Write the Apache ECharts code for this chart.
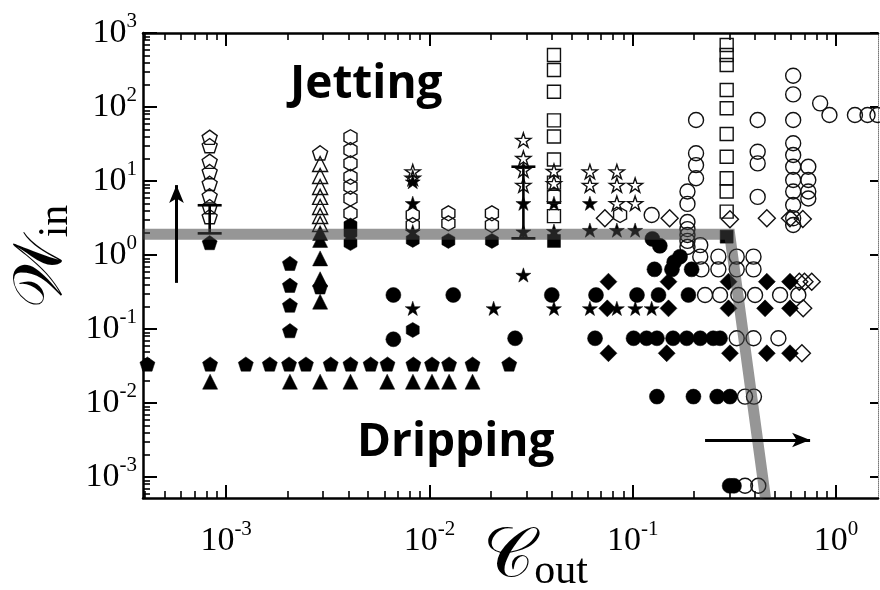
<!DOCTYPE html>
<html>
<head>
<meta charset="utf-8">
<script src="https://cdn.jsdelivr.net/npm/echarts@6/dist/echarts.min.js"></script>
<style>
  html, body { margin: 0; padding: 0; background: #fff; }
  #chart { width: 880px; height: 590px; }
</style>
</head>
<body>
<div id="chart"></div>
<script>
// Axis ranges (log-log)
const X_MIN = 3.9e-4, X_MAX = 1.61;
const Y_MIN = 5.2e-4, Y_MAX = 1000;

// Decade tick values shown with labels
const xMajorTicks = [1e-3, 1e-2, 1e-1, 1];
const yMajorTicks = [1e-3, 1e-2, 1e-1, 1, 10, 100, 1000];

// Measured points: [C_out, W_in]
const openPentagon = [
  [8.3e-4, 39], [8.3e-4, 30], [8.3e-4, 18.5], [8.3e-4, 13.4], [8.3e-4, 9.3],
  [8.3e-4, 6.3], [8.3e-4, 4.5], [8.3e-4, 3.3], [2.9e-3, 24]
];
const filledPentagon = [
  [8.3e-4, 1.47],
  [2.06e-3, 0.77], [2.06e-3, 0.39], [2.06e-3, 0.21], [2.06e-3, 0.095], [2.9e-3, 0.37],
  [4.1e-4, 0.0336], [8.34e-4, 0.0336], [1.25e-3, 0.0336], [1.64e-3, 0.0336], [2.04e-3, 0.0336],
  [2.47e-3, 0.0336], [3.27e-3, 0.0336], [4.09e-3, 0.0336], [5.14e-3, 0.0336], [6.22e-3, 0.0336],
  [8.34e-3, 0.0336], [1.03e-2, 0.0336], [1.25e-2, 0.0336], [1.63e-2, 0.0336], [2.47e-2, 0.0336]
];
const openTriangle = [
  [2.9e-3, 17.0], [2.9e-3, 11.7], [2.9e-3, 8.3], [2.9e-3, 6.1], [2.9e-3, 4.45],
  [2.9e-3, 3.37], [2.9e-3, 2.62]
];
const filledTriangle = [
  [2.9e-3, 1.98], [2.9e-3, 1.6], [2.9e-3, 0.9], [2.9e-3, 0.47], [2.9e-3, 0.234],
  [8.34e-4, 0.0194], [2.06e-3, 0.0194], [2.9e-3, 0.0194], [4.09e-3, 0.0194], [6.2e-3, 0.0194],
  [8.3e-3, 0.0194], [1.03e-2, 0.0194], [1.25e-2, 0.0194], [1.63e-2, 0.0194]
];
const openHexagon = [
  [4.09e-3, 39], [4.09e-3, 26.2], [4.09e-3, 17.3], [4.09e-3, 11.4], [4.09e-3, 8.4],
  [4.09e-3, 5.8], [4.09e-3, 3.66],
  [8.28e-3, 3.47], [8.28e-3, 2.54], [1.24e-2, 3.66], [1.24e-2, 2.68],
  [2.03e-2, 3.66], [2.03e-2, 2.54], [8.67e-2, 3.47]
];
const filledHexagon = [
  [4.09e-3, 2.5], [4.09e-3, 2.0], [4.09e-3, 1.45], [8.28e-3, 1.6], [8.28e-3, 0.097],
  [1.24e-2, 1.55], [2.03e-2, 1.55]
];
const openStar = [
  [8.28e-3, 13.4], [8.28e-3, 11],
  [2.9e-2, 35.8], [2.9e-2, 20.3], [2.9e-2, 14.1], [2.9e-2, 8.8],
  [4.1e-2, 13.6], [4.1e-2, 9.3],
  [6.16e-2, 13.4], [6.16e-2, 8.8],
  [8.36e-2, 13.4], [8.36e-2, 8.8], [8.36e-2, 5.0],
  [0.1028, 8.8], [0.1028, 5.0]
];
const filledStar = [
  [8.28e-3, 9.8], [8.28e-3, 5.0], [8.28e-3, 2.07], [8.28e-3, 0.19],
  [2.9e-2, 5.0], [2.9e-2, 2.07], [2.9e-2, 0.537],
  [4.1e-2, 5.0], [4.1e-2, 2.1], [6.16e-2, 5.0], [6.16e-2, 2.17],
  [8.36e-2, 2.17], [0.1028, 2.17],
  [2.07e-2, 0.19], [4.1e-2, 0.19], [6.16e-2, 0.19], [8.36e-2, 0.19], [0.103, 0.19], [0.124, 0.19]
];
const openSquare = [
  [4.1e-2, 504], [4.1e-2, 316], [4.1e-2, 161], [4.1e-2, 66], [4.1e-2, 40],
  [4.1e-2, 19.5], [4.1e-2, 9.5], [4.1e-2, 6.1], [4.1e-2, 3.35],
  [0.29, 689], [0.29, 504], [0.29, 370], [0.29, 170], [0.29, 96], [0.29, 43.2],
  [0.29, 21.3], [0.29, 10.9], [0.29, 7.2], [0.29, 3.85]
];
const filledSquare = [[4.1e-2, 1.55], [0.29, 1.77]];
const openCircle = [
  [0.124, 3.47],
  [0.186, 7.2], [0.186, 4.9], [0.186, 2.79], [0.186, 2.24], [0.186, 1.86], [0.186, 1.55], [0.186, 1.28],
  [0.205, 66.7], [0.205, 23.7], [0.205, 16.4], [0.205, 10.9],
  [0.412, 66.7], [0.412, 24.9], [0.412, 17.3], [0.412, 6.1],
  [0.616, 265], [0.616, 148], [0.616, 66.7], [0.616, 32.3], [0.616, 22.5], [0.616, 15.6],
  [0.616, 10.3], [0.616, 7.2], [0.616, 4.74], [0.616, 3.13], [0.616, 2.54],
  [0.731, 15.6], [0.731, 10.3], [0.731, 7.2], [0.731, 5.8],
  [0.836, 112], [0.929, 78], [1.24, 78], [1.43, 78], [1.6, 78],
  [0.215, 1.36],
  [0.215, 0.95], [0.264, 0.95], [0.325, 0.95], [0.393, 0.95],
  [0.218, 0.64], [0.264, 0.64], [0.325, 0.64], [0.393, 0.64],
  [0.227, 0.288], [0.269, 0.288], [0.331, 0.288], [0.40, 0.288], [0.531, 0.288], [0.653, 0.288],
  [0.325, 0.0749], [0.393, 0.0749], [0.521, 0.0749],
  [0.357, 0.0122], [0.395, 0.0122],
  [0.357, 7.6e-4], [0.415, 7.6e-4]
];
const filledCircle = [
  [6.65e-3, 0.288], [6.65e-3, 0.0726],
  [1.31e-2, 0.288], [4.0e-2, 0.288], [6.6e-2, 0.288], [0.105, 0.288], [0.134, 0.288], [0.188, 0.288],
  [2.64e-2, 0.0749], [6.53e-2, 0.0749], [0.101, 0.0749], [0.117, 0.0749], [0.1316, 0.0749],
  [0.158, 0.0749], [0.1845, 0.0749], [0.215, 0.0749], [0.249, 0.0749], [0.269, 0.0749],
  [0.128, 0.64], [0.156, 0.64], [0.195, 0.64], [0.171, 0.95], [0.16, 0.80],
  [0.125, 1.65], [0.136, 1.33],
  [0.1316, 0.0122], [0.199, 0.0122], [0.2604, 0.0122], [0.301, 0.0122],
  [0.30, 7.6e-4], [0.315, 7.6e-4]
];
const openDiamond = [
  [7.3e-2, 3.13], [0.152, 3.13], [0.301, 3.04], [0.457, 3.13], [0.594, 3.13], [0.687, 3.07],
  [0.66, 0.436], [0.70, 0.436], [0.76, 0.436], [0.69, 0.19], [0.68, 0.047]
];
const filledDiamond = [
  [7.6e-2, 0.436], [0.15, 0.436], [0.296, 0.436], [0.457, 0.436], [0.594, 0.436],
  [7.5e-2, 0.19], [0.15, 0.19], [0.296, 0.19], [0.448, 0.19], [0.594, 0.19],
  [7.6e-2, 0.047], [0.147, 0.047], [0.301, 0.047], [0.457, 0.047], [0.594, 0.047]
];
// Error bars: [C_out, low, high]
const errorBars = [[8.3e-4, 1.96, 4.7], [2.9e-2, 1.68, 15.6]];
// Jetting / dripping boundary
const boundary = [[3.9e-4, 1.9], [0.30, 1.9], [0.45, 5.2e-4]];
// Direction arrows: [[x1, y1], [x2, y2]]
const arrows = [
  [[5.7e-4, 0.42], [5.7e-4, 8.8]],
  [[0.227, 3.16e-3], [0.746, 3.16e-3]]
];

// Minor ticks at 2..9 x 10^k within a range
function minorTicks(lo, hi) {
  const out = [];
  for (let e = Math.floor(Math.log10(lo)); e <= Math.ceil(Math.log10(hi)); e++) {
    for (let k = 2; k <= 9; k++) {
      const v = k * Math.pow(10, e);
      if (v > lo && v < hi) out.push(v);
    }
  }
  return out;
}
const xMinorTicks = minorTicks(X_MIN, X_MAX);
const yMinorTicks = minorTicks(Y_MIN, Y_MAX);

const PENTAGON = 'path://M0,-10L9.511,-3.09L5.878,8.09L-5.878,8.09L-9.511,-3.09Z';
const HEXAGON = 'path://M0,-10L8.66,-5L8.66,5L0,10L-8.66,5L-8.66,-5Z';
const STAR = 'path://M0,-10L2.245,-3.09L9.511,-3.09L3.633,1.18L5.878,8.09L0,3.82L-5.878,8.09L-3.633,1.18L-9.511,-3.09L-2.245,-3.09Z';

const SERIF = '"Liberation Serif", "Times New Roman", serif';
const SCRIPT = '"DejaVu Serif", serif';

function powerLabel(v) {
  const e = Math.round(Math.log10(v));
  return '{b|10}{s|' + e + '}';
}
const labelRich = {
  b: { fontFamily: SERIF, fontSize: 34, color: '#000', lineHeight: 44 },
  s: { fontFamily: SERIF, fontSize: 21, color: '#000', lineHeight: 16, verticalAlign: 'top' }
};

function markers(name, data, symbol, size, filled) {
  return {
    name, type: 'scatter', data, symbol, symbolSize: size, symbolKeepAspect: true,
    xAxisIndex: 0, yAxisIndex: 0,
    itemStyle: filled
      ? { color: '#000', borderColor: '#000', borderWidth: 0.5, opacity: 1 }
      : { color: 'rgba(255,255,255,0)', borderColor: '#111', borderWidth: 1.4, opacity: 1 },
    silent: true, z: 2
  };
}

function logAxis(pos, min, max, extra) {
  return Object.assign({
    type: 'log', logBase: 10, min, max, position: pos,
    splitLine: { show: false }, minorTick: { show: false }, minorSplitLine: { show: false },
    axisLabel: { show: false }, axisLine: { show: false }, axisTick: { show: false }
  }, extra);
}
const majorLine = { show: true, onZero: false, lineStyle: { color: '#000', width: 2.5 } };
const majorTick = (len, ticks) => ({ show: true, inside: true, length: len, customValues: ticks, lineStyle: { color: '#000', width: 2 } });
const minorTick = (len, ticks) => ({ show: true, inside: true, length: len, customValues: ticks, lineStyle: { color: '#000', width: 1.6 } });

const chart = echarts.init(document.getElementById('chart'), null, { renderer: 'canvas' });

chart.setOption({
  animation: false,
  backgroundColor: '#fff',
  grid: { left: 143, right: 2, top: 33, bottom: 92, containLabel: false, outerBoundsMode: 'none' },
  xAxis: [
    logAxis('bottom', X_MIN, X_MAX, {
      axisLine: majorLine,
      axisTick: majorTick(13, xMajorTicks),
      axisLabel: { show: true, customValues: xMajorTicks, formatter: powerLabel, rich: labelRich, margin: 21 },
      name: '{c|\u{1D49E}}{s|out}', nameLocation: 'middle', nameGap: 25, nameMoveOverlap: false,
      nameTextStyle: {
        padding: [0, 0, 0, 50],
        rich: {
          c: { fontFamily: SCRIPT, fontSize: 70, color: '#000', lineHeight: 70 },
          s: { fontFamily: SERIF, fontSize: 42, color: '#000', lineHeight: 30, verticalAlign: 'bottom' }
        }
      }
    }),
    logAxis('bottom', X_MIN, X_MAX, { axisTick: minorTick(7, xMinorTicks) }),
    logAxis('top', X_MIN, X_MAX, { axisLine: majorLine, axisTick: majorTick(13, xMajorTicks) }),
    logAxis('top', X_MIN, X_MAX, { axisTick: minorTick(7, xMinorTicks) })
  ],
  yAxis: [
    logAxis('left', Y_MIN, Y_MAX, {
      axisLine: majorLine,
      axisTick: majorTick(14, yMajorTicks),
      axisLabel: { show: true, customValues: yMajorTicks, formatter: powerLabel, rich: labelRich, margin: 6 },
      name: '{w|\u{1D4B2}}{s|in}', nameLocation: 'middle', nameRotate: 90, nameGap: 66, nameMoveOverlap: false,
      nameTextStyle: {
        padding: [0, 0, 0, 18],
        rich: {
          w: { fontFamily: SCRIPT, fontSize: 68, color: '#000', lineHeight: 68 },
          s: { fontFamily: SERIF, fontSize: 42, color: '#000', lineHeight: 24, verticalAlign: 'bottom' }
        }
      }
    }),
    logAxis('left', Y_MIN, Y_MAX, { axisTick: minorTick(7, yMinorTicks) }),
    logAxis('right', Y_MIN, Y_MAX, {
      axisLine: { show: true, onZero: false, lineStyle: { color: '#777', width: 1, type: 'dotted' } },
      axisTick: majorTick(8, yMajorTicks)
    })
  ],
  series: [
    markers('openPentagon', openPentagon, PENTAGON, 15, false),
    markers('filledPentagon', filledPentagon, PENTAGON, 15, true),
    markers('openTriangle', openTriangle, 'triangle', 15, false),
    markers('filledTriangle', filledTriangle, 'triangle', 15, true),
    markers('openHexagon', openHexagon, HEXAGON, 15, false),
    markers('filledHexagon', filledHexagon, HEXAGON, 15, true),
    markers('openStar', openStar, STAR, 15, false),
    markers('filledStar', filledStar, STAR, 15, true),
    markers('openSquare', openSquare, 'rect', 13, false),
    markers('filledSquare', filledSquare, 'rect', 13, true),
    markers('openCircle', openCircle, 'circle', 15, false),
    markers('filledCircle', filledCircle, 'circle', 15, true),
    markers('openDiamond', openDiamond, 'diamond', 17, false),
    markers('filledDiamond', filledDiamond, 'diamond', 17, true),
    {
      name: 'errorBars', type: 'custom', data: errorBars, xAxisIndex: 0, yAxisIndex: 0,
      encode: { x: 0, y: [1, 2] }, silent: true, z: 3,
      renderItem(params, api) {
        const x = api.value(0);
        const lo = api.coord([x, api.value(1)]);
        const hi = api.coord([x, api.value(2)]);
        const half = 12;
        const st = { stroke: '#000', lineWidth: 2.6 };
        return {
          type: 'group',
          children: [
            { type: 'line', shape: { x1: lo[0], y1: lo[1], x2: hi[0], y2: hi[1] }, style: st },
            { type: 'line', shape: { x1: lo[0] - half, y1: lo[1], x2: lo[0] + half, y2: lo[1] }, style: st },
            { type: 'line', shape: { x1: hi[0] - half, y1: hi[1], x2: hi[0] + half, y2: hi[1] }, style: st }
          ]
        };
      }
    },
    {
      name: 'boundary', type: 'line', data: boundary, xAxisIndex: 0, yAxisIndex: 0,
      symbol: 'none', silent: true, z: 4,
      lineStyle: { color: '#404040', width: 11, opacity: 0.55, join: 'miter' },
      markLine: {
        silent: true, symbol: ['none', 'arrow'], symbolSize: [11, 18],
        lineStyle: { color: '#000', width: 3, type: 'solid', opacity: 1 },
        label: { show: false },
        data: arrows.map(a => [{ coord: a[0] }, { coord: a[1] }])
      }
    }
  ],
  graphic: [
    { type: 'text', x: 290, y: 85, z: 10, style: { text: 'Jetting', font: 'bold 46px "Open Sans"', fill: '#000', verticalAlign: 'middle', align: 'left' } },
    { type: 'text', x: 357, y: 443, z: 10, style: { text: 'Dripping', font: 'bold 46px "Open Sans"', fill: '#000', verticalAlign: 'middle', align: 'left' } }
  ]
});
</script>
</body>
</html>
